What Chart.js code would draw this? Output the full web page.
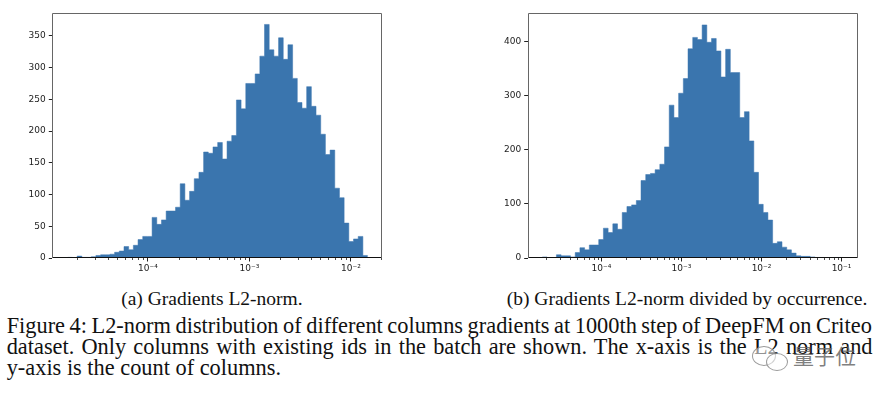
<!DOCTYPE html>
<html>
<head>
<meta charset="utf-8">
<script src="https://cdn.jsdelivr.net/npm/chart.js@4.4.0/dist/chart.umd.min.js"></script>
<style>
  html, body { margin: 0; padding: 0; background: #fff; }
  body { width: 887px; height: 395px; position: relative; overflow: hidden; }
  .plot { position: absolute; top: 0; height: 285px; }
  .txt { position: absolute; font-family: "Liberation Serif", "Times New Roman", serif; color: #111; white-space: nowrap; line-height: 1; }
  .wm { position: absolute; font-family: "Noto Sans CJK SC", sans-serif; color: rgba(105,105,105,0.85); font-size: 21px; line-height: 1; }
  .bubble { position: absolute; border: 1.5px solid rgba(120,120,120,0.75); border-radius: 50%; background: rgba(255,255,255,0.55); }
</style>
</head>
<body>
<div class="plot" style="left:0;width:400px"><canvas id="normChart"></canvas></div>
<div class="plot" style="left:460px;width:427px"><canvas id="occurChart"></canvas></div>

<div class="txt" id="capA">(a) Gradients L2-norm.</div>
<div class="txt" id="capB">(b) Gradients L2-norm divided by occurrence.</div>
<div class="txt" id="line1">Figure 4: L2-norm distribution of different columns gradients at 1000th step of DeepFM on Criteo</div>
<div class="txt" id="line2">dataset. Only columns with existing ids in the batch are shown. The x-axis is the L2 norm and</div>
<div class="txt" id="line3">y-axis is the count of columns.</div>

<div class="bubble" style="left:752px;top:346px;width:22px;height:18px"></div>
<div class="bubble" style="left:766px;top:353px;width:20px;height:16px"></div>
<div class="wm" style="left:793px;top:345px">量子位</div>

<script>
// (a) column gradient L2-norm, 64 log-spaced bins
const normCounts = [
    1, 0, 3, 1, 1, 2, 4, 5, 5, 6, 9, 11, 18, 13, 20, 29,
    34, 34, 64, 53, 60, 74, 74, 80,
    117, 91, 105, 125, 135, 167, 165, 175,
    182, 156, 184, 193, 249, 235, 275, 275,
    290, 318, 368, 328, 318, 347, 313, 336,
    283, 245, 236, 270, 239, 225, 195, 163,
    170, 110, 95, 55, 26, 30, 34, 4
];
// (b) L2-norm divided by occurrence, 64 log-spaced bins
const occurCounts = [
    2, 0, 0, 6, 4, 4, 2, 10, 19, 15, 24, 24, 34, 55, 47, 63,
    53, 84, 95, 98, 106, 143, 154, 156,
    163, 173, 205, 282, 259, 304, 331, 386,
    407, 403, 430, 398, 405, 382, 334, 385,
    342, 342, 259, 270, 216, 158, 99, 84,
    70, 27, 30, 20, 15, 9, 4, 3,
    3, 2, 1, 1, 0, 0, 1, 1
];
// first and last bin edge of each histogram
const normBinRange = [1.62e-5, 1.46e-2];
const occurBinRange = [1.82e-5, 0.1047];
// axis ranges
const normXRange = [1.14e-5, 0.0204];
const occurXRange = [1.195e-5, 0.162];
const normYMax = 386;
const occurYMax = 452;
// tick values
const normXTicks = [1e-4, 1e-3, 1e-2];
const occurXTicks = [1e-4, 1e-3, 1e-2, 1e-1];
const normYTicks = [0, 50, 100, 150, 200, 250, 300, 350];
const occurYTicks = [0, 100, 200, 300, 400];

const BAR_COLOR = '#3a75ae';
const SUP = { '-': '⁻', '0': '⁰', '1': '¹', '2': '²', '3': '³', '4': '⁴', '5': '⁵', '6': '⁶', '7': '⁷', '8': '⁸', '9': '⁹' };

function powLabel(v) {
    const e = String(Math.round(Math.log10(v)));
    return '10' + e.split('').map(c => SUP[c]).join('');
}

// step outline of the histogram: left edge of each bin, plus the closing right edge
function histPoints(counts, range) {
    const lo = Math.log10(range[0]);
    const hi = Math.log10(range[1]);
    const w = (hi - lo) / counts.length;
    const pts = counts.map((c, i) => ({ x: Math.pow(10, lo + i * w), y: c }));
    pts.push({ x: Math.pow(10, hi), y: 0 });
    return pts;
}

// minor log ticks + matplotlib style frame
const frameAndMinor = {
    id: 'frameAndMinor',
    afterDraw(chart) {
        const ctx = chart.ctx;
        const a = chart.chartArea;
        const x = chart.scales.x;
        ctx.save();
        ctx.strokeStyle = '#222';
        ctx.lineWidth = 0.8;
        for (let e = Math.floor(Math.log10(x.min)); e <= Math.ceil(Math.log10(x.max)); e++) {
            for (let m = 2; m <= 9; m++) {
                const v = m * Math.pow(10, e);
                if (v <= x.min || v >= x.max) continue;
                const px = Math.round(x.getPixelForValue(v)) + 0.5;
                ctx.beginPath();
                ctx.moveTo(px, a.bottom);
                ctx.lineTo(px, a.bottom + 2);
                ctx.stroke();
            }
        }
        ctx.lineWidth = 1;
        ctx.strokeStyle = '#666';
        const l = Math.round(a.left) + 0.5, r = Math.round(a.right) - 0.5;
        const t = Math.round(a.top) + 0.5, b = Math.round(a.bottom) - 0.5;
        ctx.beginPath();
        ctx.moveTo(l, b); ctx.lineTo(l, t); ctx.lineTo(r, t); ctx.lineTo(r, b);
        ctx.stroke();
        ctx.strokeStyle = '#111';
        ctx.beginPath();
        ctx.moveTo(l, b); ctx.lineTo(r, b);
        ctx.stroke();
        ctx.restore();
    }
};

function makeHist(id, counts, binRange, xRange, xTicks, yMax, yTicks, yWidth, padRight) {
    const tickFont = { family: 'DejaVu Sans', size: 9 };
    new Chart(document.getElementById(id).getContext('2d'), {
        type: 'line',
        data: {
            datasets: [{
                data: histPoints(counts, binRange),
                stepped: 'before',
                fill: 'origin',
                backgroundColor: BAR_COLOR,
                borderColor: BAR_COLOR,
                borderWidth: 0.5,
                pointRadius: 0
            }]
        },
        options: {
            responsive: true,
            maintainAspectRatio: false,
            animation: false,
            layout: { padding: { top: 13, right: padRight, left: 0, bottom: 0 } },
            plugins: { legend: { display: false }, tooltip: { enabled: false } },
            scales: {
                x: {
                    type: 'logarithmic',
                    min: xRange[0],
                    max: xRange[1],
                    afterBuildTicks: s => { s.ticks = xTicks.map(v => ({ value: v, major: true })); },
                    afterFit: s => { s.height = 27; },
                    ticks: {
                        autoSkip: false, maxRotation: 0, padding: 2,
                        color: '#222', font: tickFont,
                        callback: v => powLabel(v)
                    },
                    grid: { drawOnChartArea: false, tickLength: 3.5, color: '#222' },
                    border: { display: false }
                },
                y: {
                    min: 0,
                    max: yMax,
                    afterBuildTicks: s => { s.ticks = yTicks.map(v => ({ value: v })); },
                    afterFit: s => { s.width = yWidth; },
                    ticks: { padding: 3, color: '#222', font: tickFont },
                    grid: { drawOnChartArea: false, tickLength: 3.5, color: '#222' },
                    border: { display: false }
                }
            }
        },
        plugins: [frameAndMinor]
    });
}

makeHist('normChart', normCounts, normBinRange, normXRange, normXTicks, normYMax, normYTicks, 52.3, 17.7);
makeHist('occurChart', occurCounts, occurBinRange, occurXRange, occurXTicks, occurYMax, occurYTicks, 67.7, 28.7);

// caption text layout
function place(el, left, baseline, size) {
    el.style.fontSize = size + 'px';
    el.style.left = left + 'px';
    el.style.top = (baseline - 0.8375 * size) + 'px';
}
function fitSize(el, width) {
    el.style.fontSize = '20px';
    return 20 * width / el.offsetWidth;
}
function layoutText() {
    const capA = document.getElementById('capA');
    const capB = document.getElementById('capB');
    const subSize = fitSize(capB, 361);
    place(capA, 0, 305, subSize);
    capA.style.left = (211.7 - capA.offsetWidth / 2) + 'px';
    place(capB, 506.7, 305, subSize);

    const l3 = document.getElementById('line3');
    const bodySize = fitSize(l3, 275);
    place(l3, 6.7, 376, bodySize);
    [['line1', 334], ['line2', 355]].forEach(([id, base]) => {
        const el = document.getElementById(id);
        place(el, 6.7, base, bodySize);
        const spaces = el.textContent.split(' ').length - 1;
        el.style.wordSpacing = ((865.6 - el.offsetWidth) / spaces) + 'px';
    });
}
layoutText();
</script>
</body>
</html>
